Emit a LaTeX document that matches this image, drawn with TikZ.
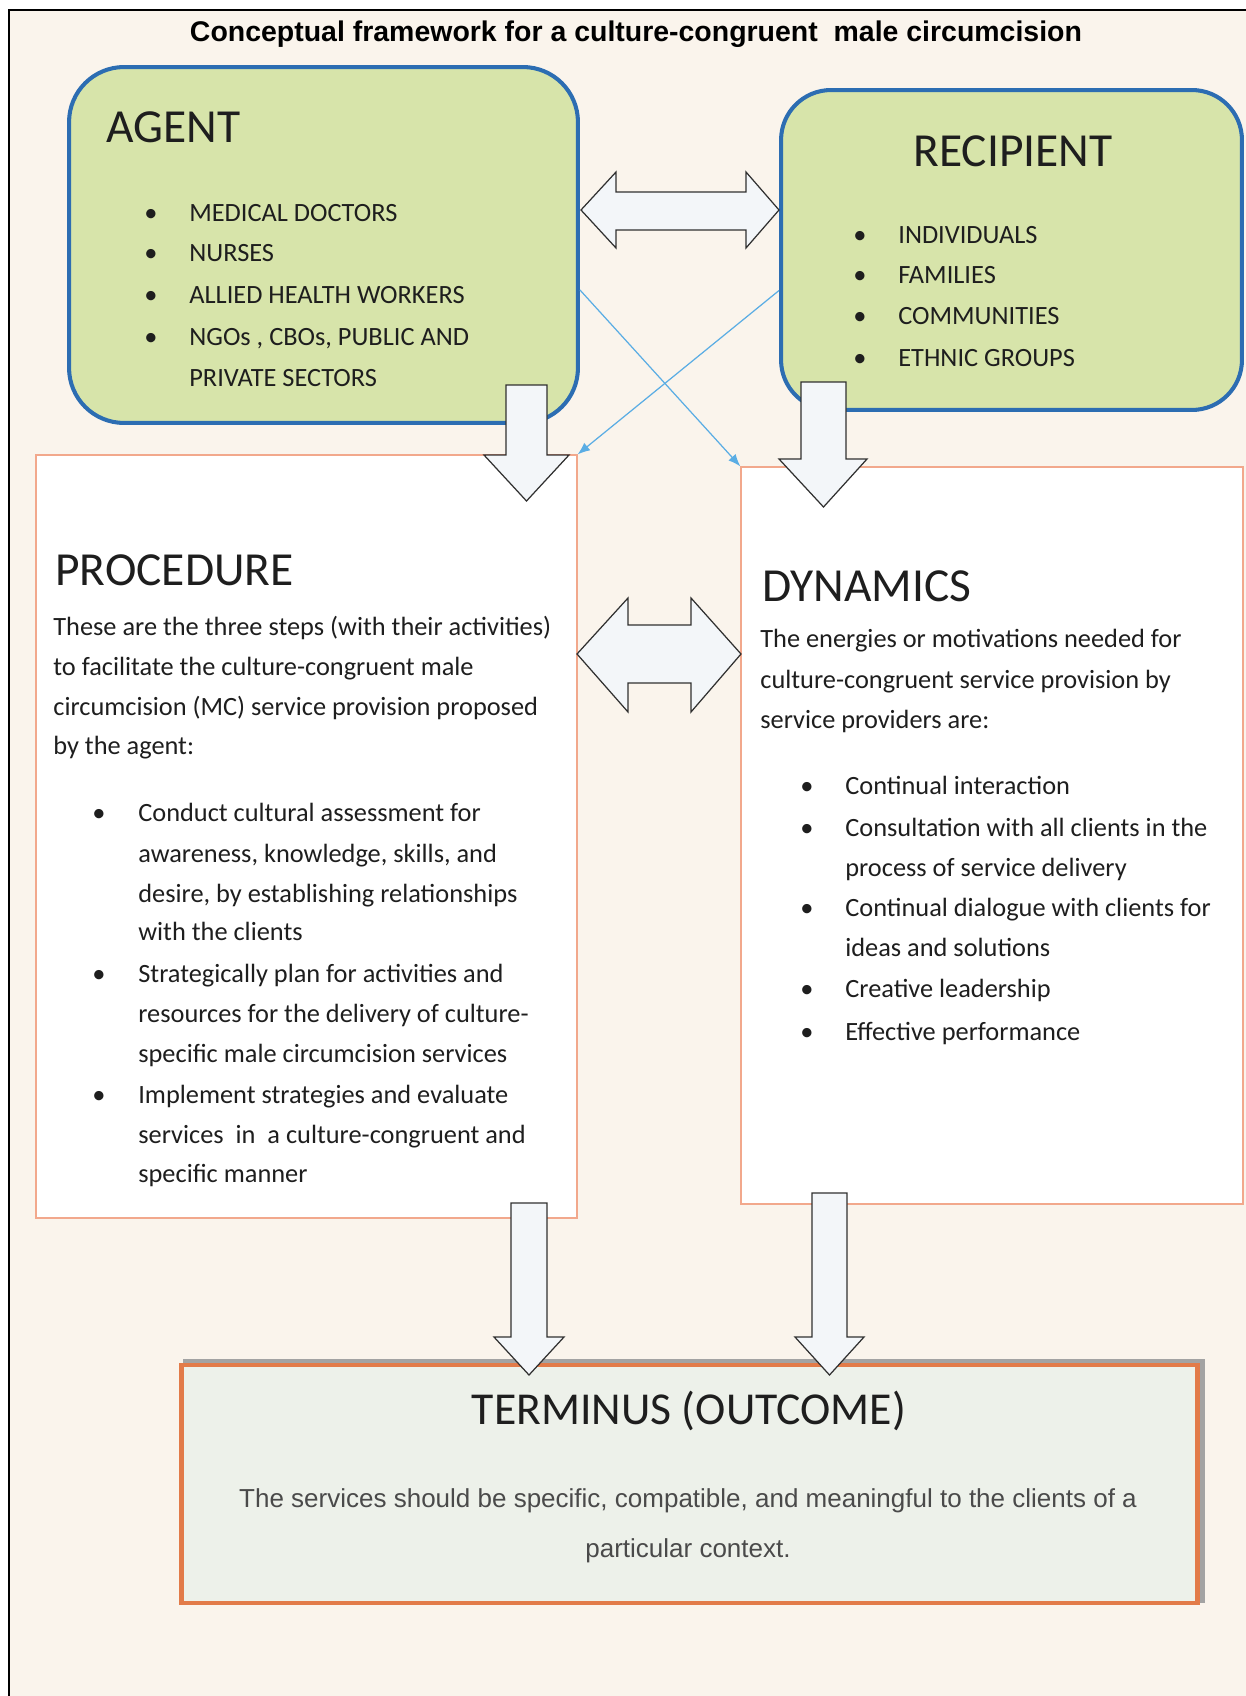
\documentclass[tikz,border=0pt]{standalone}
\usepackage{fontspec}
\setmainfont{Carlito}
\newfontfamily\arialfont{Liberation Sans}
\usetikzlibrary{arrows.meta,calc}

\definecolor{paper}{HTML}{FAF4EC}
\definecolor{agentgreen}{HTML}{D7E4AA}
\definecolor{boxblue}{HTML}{2C6DB2}
\definecolor{panelline}{HTML}{F2A88C}
\definecolor{outorange}{HTML}{E27B49}
\definecolor{outfill}{HTML}{EDF1EA}
\definecolor{shadowgrey}{HTML}{A3A3A3}
\definecolor{arrowfill}{HTML}{F3F6F9}
\definecolor{arrowgrey}{HTML}{303030}
\definecolor{linkblue}{HTML}{5AADE4}
\definecolor{ink}{HTML}{1E1E1E}
\definecolor{greyink}{HTML}{4A4A4A}

\begin{document}
\begin{tikzpicture}[x=0.02cm, y=-0.02cm,
  greenbox/.style={draw=boxblue, line width=2.3pt, fill=agentgreen, inner sep=0pt},
  panel/.style={draw=panelline, line width=0.8pt, fill=white, inner sep=0pt},
  outbox/.style={draw=outorange, line width=2.8pt, fill=outfill, inner sep=0pt},
  head/.style={font=\fontsize{27}{32}\selectfont, text=ink, inner sep=0pt},
  txt/.style={font=\fontsize{15}{18}\selectfont, text=ink, anchor=base west, inner sep=0pt},
  dot/.style={txt, anchor=base},
  blk/.style={draw=arrowgrey, line width=0.7pt, fill=arrowfill, line join=miter},
  link/.style={draw=linkblue, line width=0.7pt, -{Latex[length=7pt, width=5.5pt]}}]
\useasboundingbox (0,0) rectangle (1246,1696);

% page
\fill[paper] (9,10) rectangle (1246,1696);
\draw[line width=1.2pt] (9,1696) -- (9,10) -- (1246,10);

\node[font=\arialfont\bfseries\fontsize{16.2}{20}\selectfont, anchor=base, inner sep=0pt] (title) at (636,42)
  {Conceptual framework for a culture-congruent~ male circumcision};

% boxes
\node[greenbox, rounded corners=1.1cm, minimum width=10.18cm, minimum height=7.12cm] (agent) at (323.5,245) {};
\node[greenbox, rounded corners=1.0cm, minimum width=9.22cm, minimum height=6.4cm] (recip) at (1011.5,250) {};
\node[panel, minimum width=10.82cm, minimum height=15.26cm] (proc) at (306.5,836.5) {};
\node[panel, minimum width=10.04cm, minimum height=14.74cm] (dyn) at (992,835.5) {};
\fill[shadowgrey] (183,1359) rectangle (1205,1603);
\node[outbox, minimum width=20.34cm, minimum height=4.76cm] (out) at (689.5,1484) {};

% agent
\node[head, anchor=base west] (agenthd) at (106,143) {AGENT};
\foreach \y/\t [count=\i] in {222/{MEDICAL DOCTORS}, 262/{NURSES}, 304/{ALLIED HEALTH WORKERS},
    345/{NGOs , CBOs, PUBLIC AND}, 386/{PRIVATE SECTORS}}
  \node[txt] (ag\i) at (189,\y) {\t};
\foreach \y [count=\i] in {222,262,304,345}
  \node[dot] (agb\i) at (151,\y) {•};

% recipient
\node[head, anchor=base] (reciphd) at (1013,167) {RECIPIENT};
\foreach \y/\t [count=\i] in {244/{INDIVIDUALS}, 284/{FAMILIES}, 325/{COMMUNITIES}, 366/{ETHNIC GROUPS}}
  \node[txt] (re\i) at (898,\y) {\t};
\foreach \y [count=\i] in {244,284,325,366}
  \node[dot] (reb\i) at (860,\y) {•};

% procedure
\node[head, anchor=base west] (prochd) at (55,585) {PROCEDURE};
\foreach \y/\t [count=\i] in {635/{These are the three steps (with their activities)},
    675/{to facilitate the culture-congruent male},
    715/{circumcision (MC) service provision proposed},
    754/{by the agent:}}
  \node[txt] (pr\i) at (53,\y) {\t};
\foreach \y/\t [count=\i] in {821/{Conduct cultural assessment for},
    862/{awareness, knowledge, skills, and},
    902/{desire, by establishing relationships},
    940/{with the clients},
    982/{Strategically plan for activities and},
    1022/{resources for the delivery of culture-},
    1062/{specific male circumcision services},
    1103/{Implement strategies and evaluate},
    1143/{services~ in~ a culture-congruent and},
    1182/{specific manner}}
  \node[txt] (pi\i) at (138,\y) {\t};
\foreach \y [count=\i] in {821,982,1103}
  \node[dot] (pb\i) at (99,\y) {•};

% dynamics
\node[head, anchor=base west] (dynhd) at (762,601) {DYNAMICS};
\foreach \y/\t [count=\i] in {647/{The energies or motivations needed for},
    688/{culture-congruent service provision by},
    728/{service providers are:}}
  \node[txt] (dy\i) at (760,\y) {\t};
\foreach \y/\t [count=\i] in {794/{Continual interaction},
    836/{Consultation with all clients in the},
    876/{process of service delivery},
    916/{Continual dialogue with clients for},
    956/{ideas and solutions},
    997/{Creative leadership},
    1040/{Effective performance}}
  \node[txt] (di\i) at (845,\y) {\t};
\foreach \y [count=\i] in {794,836,916,997,1040}
  \node[dot] (db\i) at (807,\y) {•};

% terminus
\node[head, font=\fontsize{26}{30}\selectfont, anchor=base] (outhd) at (689,1424) {TERMINUS (OUTCOME)};
\node[font=\arialfont\fontsize{14.8}{18}\selectfont, text=greyink, anchor=base, inner sep=0pt] (out1) at (688,1507)
  {The services should be specific, compatible, and meaningful to the clients of a};
\node[font=\arialfont\fontsize{14.8}{18}\selectfont, text=greyink, anchor=base, inner sep=0pt] (out2) at (688,1557)
  {particular context.};

% block arrows
\draw[blk] (581,210) -- (616,172) -- (616,192) -- (746,192) -- (746,172) -- (779,210)
  -- (746,248) -- (746,230) -- (616,230) -- (616,248) -- cycle;
\draw[blk] (577,654) -- (628,598) -- (628,625) -- (691,625) -- (691,598) -- (741,654)
  -- (691,712) -- (691,683) -- (628,683) -- (628,712) -- cycle;
\draw[blk] (506,385) -- (547,385) -- (547,455) -- (569,455) -- (526.5,501) -- (484,455) -- (506,455) -- cycle;
\draw[blk] (801,382) -- (846,382) -- (846,459) -- (867,459) -- (823.5,507) -- (779,459) -- (801,459) -- cycle;
\draw[blk] (511,1203) -- (547,1203) -- (547,1337) -- (564,1337) -- (529,1375) -- (494,1337) -- (511,1337) -- cycle;
\draw[blk] (812,1193) -- (847,1193) -- (847,1337) -- (864,1337) -- (829.5,1375) -- (795,1337) -- (812,1337) -- cycle;

% cross links
\draw[link] ($(agent.north east)!0.625!(agent.south east)$) -- (dyn.north west);
\draw[link] ($(recip.north west)!0.625!(recip.south west)$) -- (proc.north east);
\end{tikzpicture}
\end{document}
